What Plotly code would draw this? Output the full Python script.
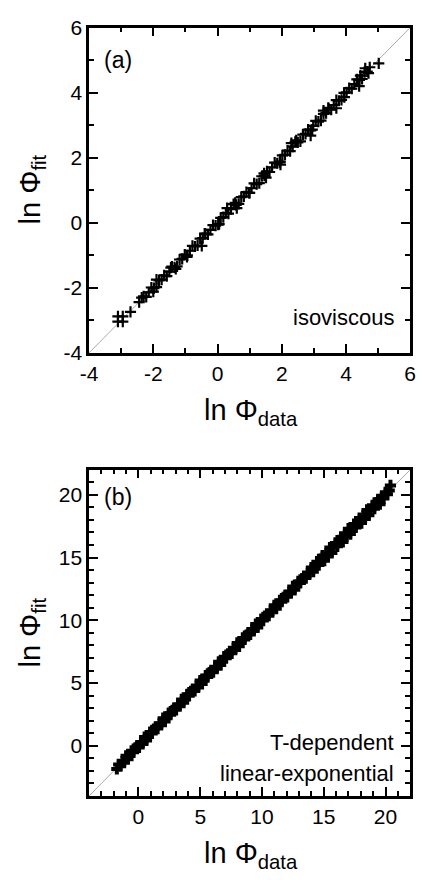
import plotly.graph_objects as go

# ---------------- data: panel (a) isoviscous ----------------
phi_data_a = [-3.10, -3.10, -2.95, -2.95, -2.71, -2.44, -2.36,
    -2.30, -2.22, -2.14, -2.06, -1.98, -1.90, -1.82, -1.74, -1.66, -1.58, -1.50, -1.42, -1.34, -1.26,
    -1.18, -1.10, -1.02, -0.94, -0.86, -0.78, -0.70, -0.62, -0.54, -0.46, -0.38, -0.30, -0.22, -0.14,
    -0.06, 0.02, 0.10, 0.18, 0.26, 0.34, 0.42, 0.50, 0.58, 0.66, 0.74, 0.82, 0.90, 0.98, 1.06, 1.14,
    1.22, 1.30, 1.38, 1.46, 1.54, 1.62, 1.70, 1.78, 1.86, 1.94, 2.02, 2.10, 2.18, 2.26, 2.34, 2.42,
    2.50, 2.58, 2.66, 2.74, 2.82, 2.90, 2.98, 3.06, 3.14, 3.22, 3.30, 3.38, 3.46, 3.54, 3.62, 3.70,
    3.78, 3.86, 3.94, 4.02, 4.10, 4.18, 4.26, 4.34, 4.42, 4.50, 4.58, 4.66, 4.74,
    1.96, 1.51, 2.90, 4.41, 5.02, -0.49, -1.30, 3.70, 0.60, 4.70, 4.60, -1.90, 0.30, 2.30, 3.30,
    -2.00, -1.45, -0.95, -0.40, 0.05, 0.55, 1.00, 1.45, 1.95, 2.45, 2.95, 3.45, 3.95, 4.45]
phi_fit_a = [-2.88, -3.04, -2.88, -3.04, -2.74, -2.44, -2.30,
    -2.26, -2.28, -2.14, -1.99, -2.01, -1.98, -1.77, -1.75, -1.62, -1.64, -1.50, -1.35, -1.37, -1.34,
    -1.13, -1.11, -0.98, -1.00, -0.86, -0.71, -0.73, -0.70, -0.49, -0.47, -0.34, -0.36, -0.22, -0.07,
    -0.09, -0.06, 0.15, 0.17, 0.30, 0.28, 0.42, 0.57, 0.55, 0.58, 0.79, 0.81, 0.94, 0.92, 1.06, 1.21,
    1.19, 1.22, 1.43, 1.45, 1.58, 1.56, 1.70, 1.85, 1.83, 1.86, 2.07, 2.09, 2.22, 2.20, 2.34, 2.49,
    2.47, 2.50, 2.71, 2.73, 2.86, 2.84, 2.98, 3.13, 3.11, 3.14, 3.35, 3.37, 3.50, 3.48, 3.62, 3.77,
    3.75, 3.78, 3.99, 4.01, 4.14, 4.12, 4.26, 4.41, 4.39, 4.42, 4.63, 4.65, 4.78,
    1.79, 1.39, 2.68, 4.20, 4.90, -0.71, -1.42, 3.52, 0.45, 4.60, 4.75, -1.75, 0.45, 2.45, 3.45,
    -2.12, -1.38, -1.05, -0.33, -0.04, 0.61, 0.92, 1.52, 1.88, 2.53, 2.86, 3.53, 3.86, 4.52]

# ---------------- data: panel (b) T-dependent linear-exponential ----------------
phi_data_b = [-1.75, -1.60, -1.45, -1.30, -1.15, -1.00, -0.85, -0.70, -0.55, -0.40, -0.25, -0.10,
    0.05, 0.20, 0.35, 0.50, 0.65, 0.80, 0.95, 1.10, 1.25, 1.40, 1.55, 1.70, 1.85, 2.00, 2.15, 2.30,
    2.45, 2.60, 2.75, 2.90, 3.05, 3.20, 3.35, 3.50, 3.65, 3.80, 3.95, 4.10, 4.25, 4.40, 4.55, 4.70,
    4.85, 5.00, 5.15, 5.30, 5.45, 5.60, 5.75, 5.90, 6.05, 6.20, 6.35, 6.50, 6.65, 6.80, 6.95, 7.10,
    7.25, 7.40, 7.55, 7.70, 7.85, 8.00, 8.15, 8.30, 8.45, 8.60, 8.75, 8.90, 9.05, 9.20, 9.35, 9.50,
    9.65, 9.80, 9.95, 10.10, 10.25, 10.40, 10.55, 10.70, 10.85, 11.00, 11.15, 11.30, 11.45, 11.60,
    11.75, 11.90, 12.05, 12.20, 12.35, 12.50, 12.65, 12.80, 12.95, 13.10, 13.25, 13.40, 13.55, 13.70,
    13.85, 14.00, 14.15, 14.30, 14.45, 14.60, 14.75, 14.90, 15.05, 15.20, 15.35, 15.50, 15.65, 15.80,
    15.95, 16.10, 16.25, 16.40, 16.55, 16.70, 16.85, 17.00, 17.15, 17.30, 17.45, 17.60, 17.75, 17.90,
    18.05, 18.20, 18.35, 18.50, 18.65, 18.80, 18.95, 19.10, 19.25, 19.40, 19.55, 19.70, 19.85, 20.00,
    20.15, 20.30, 20.40]
phi_fit_b = [-1.85, -1.48, -1.63, -1.25, -1.23, -0.80, -1.07, -0.70, -0.40, -0.52, -0.17, 0.02,
    -0.13, 0.25, 0.27, 0.70, 0.43, 0.80, 1.10, 0.98, 1.33, 1.52, 1.37, 1.75, 1.77, 2.20, 1.93, 2.30,
    2.60, 2.48, 2.83, 3.02, 2.87, 3.25, 3.27, 3.70, 3.43, 3.80, 4.10, 3.98, 4.33, 4.52, 4.37, 4.75,
    4.77, 5.20, 4.93, 5.30, 5.60, 5.48, 5.83, 6.02, 5.87, 6.25, 6.27, 6.70, 6.43, 6.80, 7.10, 6.98,
    7.33, 7.52, 7.37, 7.75, 7.77, 8.20, 7.93, 8.30, 8.60, 8.48, 8.83, 9.02, 8.87, 9.25, 9.27, 9.70,
    9.43, 9.80, 10.10, 9.98, 10.33, 10.52, 10.37, 10.75, 10.77, 11.20, 10.93, 11.30, 11.60, 11.48,
    11.83, 12.02, 11.87, 12.25, 12.27, 12.70, 12.43, 12.80, 13.10, 12.98, 13.33, 13.52, 13.37, 13.75,
    13.77, 14.20, 13.87, 14.32, 14.67, 14.40, 14.87, 15.15, 14.75, 15.30, 15.20, 15.80, 15.37, 15.82,
    16.17, 15.90, 16.37, 16.65, 16.25, 16.80, 16.70, 17.30, 16.87, 17.32, 17.67, 17.40, 17.87, 18.15,
    17.75, 18.30, 18.20, 18.80, 18.37, 18.82, 19.17, 18.90, 19.37, 19.65, 19.25, 19.80, 19.70, 20.20,
    20.05, 20.35, 20.75]

# axis ranges, ticks and 1:1 reference lines
range_a = [-4, 6]
ticks_a = [-4, -2, 0, 2, 4, 6]
ticktext_a = ["-4", "-2", "0", "2", "4", "6"]
range_b = [-4, 22]
ticks_b = [0, 5, 10, 15, 20]
ticktext_b = ["0", "5", "10", "15", "20"]
diag_a = [-4, 6]
diag_b = [-4, 22]

FONT = "Liberation Sans, Arial, Helvetica, sans-serif"
W, H = 422, 882

fig = go.Figure()

fig.add_trace(go.Scatter(x=diag_a, y=diag_a, mode="lines", line=dict(color="#aaaaaa", width=1),
                         xaxis="x", yaxis="y", hoverinfo="skip"))
fig.add_trace(go.Scatter(x=phi_data_a, y=phi_fit_a, mode="markers", xaxis="x", yaxis="y",
                         marker=dict(symbol="cross-thin", size=8, color="black",
                                     line=dict(color="black", width=2.2))))
fig.add_trace(go.Scatter(x=diag_b, y=diag_b, mode="lines", line=dict(color="#aaaaaa", width=1),
                         xaxis="x2", yaxis="y2", hoverinfo="skip"))
fig.add_trace(go.Scatter(x=phi_data_b, y=phi_fit_b, mode="markers", xaxis="x2", yaxis="y2",
                         marker=dict(symbol="cross-thin", size=8, color="black",
                                     line=dict(color="black", width=4))))

def ax(rng, tv, tt, domain, anchor):
    return dict(range=rng, domain=domain, anchor=anchor, tickmode="array", tickvals=tv, ticktext=tt,
                ticks="inside", ticklen=9, tickwidth=2, tickcolor="black",
                minor=dict(ticks="inside", ticklen=5, tickwidth=1.5, tickcolor="black", dtick=1, tick0=0),
                showline=True, linewidth=2.5, linecolor="black", mirror="ticks",
                showgrid=False, zeroline=False,
                tickfont=dict(family=FONT, size=21, color="black"))

xd = [83 / W, 416 / W]
ya = [(H - 350) / H, (H - 16) / H]
yb = [(H - 805) / H, (H - 470) / H]

fig.update_layout(
    width=W, height=H, margin=dict(l=0, r=0, t=0, b=0),
    paper_bgcolor="white", plot_bgcolor="white", showlegend=False,
    font=dict(family=FONT, color="black"),
    xaxis=ax(range_a, ticks_a, ticktext_a, xd, "y"),
    yaxis=ax(range_a, ticks_a, ticktext_a, ya, "x"),
    xaxis2=ax(range_b, ticks_b, ticktext_b, xd, "y2"),
    yaxis2=ax(range_b, ticks_b, ticktext_b, yb, "x2"),
)

def px(x):
    return x / W

def py(y):
    return 1 - y / H

annos = [
    dict(text="ln Φ<sub>data</sub>", x=px(251), y=py(411), size=29, angle=0, xanchor="center"),
    dict(text="ln Φ<sub>fit</sub>", x=px(24), y=py(182), size=29, angle=-90, xanchor="center"),
    dict(text="ln Φ<sub>data</sub>", x=px(251), y=py(866), size=29, angle=0, xanchor="center"),
    dict(text="ln Φ<sub>fit</sub>", x=px(24), y=py(637), size=29, angle=-90, xanchor="center"),
    dict(text="(a)", x=px(96), y=py(49), size=23, angle=0, xanchor="left"),
    dict(text="(b)", x=px(96), y=py(498), size=23, angle=0, xanchor="left"),
    dict(text="isoviscous", x=px(401), y=py(314), size=22, angle=0, xanchor="right"),
    dict(text="T-dependent", x=px(401), y=py(750), size=22, angle=0, xanchor="right"),
    dict(text="linear-exponential", x=px(401), y=py(782), size=22, angle=0, xanchor="right"),
]
for a in annos:
    fig.add_annotation(text=a["text"], x=a["x"], y=a["y"], xref="paper", yref="paper",
                       xanchor=a["xanchor"], yanchor="middle", showarrow=False,
                       textangle=a["angle"], align="right",
                       font=dict(family=FONT, size=a["size"], color="black"))

fig.write_html("out.html")
